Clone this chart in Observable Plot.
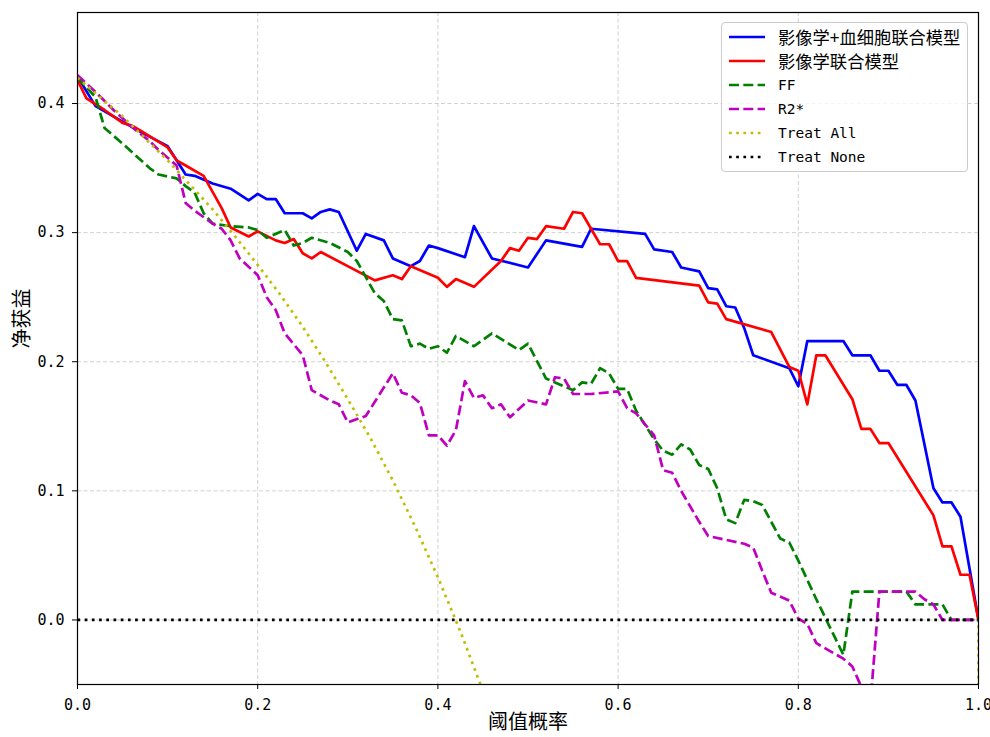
<!DOCTYPE html>
<html>
<head>
<meta charset="utf-8">
<script src="https://cdn.jsdelivr.net/npm/d3@7"></script>
<script src="https://cdn.jsdelivr.net/npm/@observablehq/plot@0.6"></script>
<style>
  html, body { margin: 0; padding: 0; background: #fff; }
  #wrap { position: relative; width: 990px; height: 737px; }
  #legend { position: absolute; left: 721px; top: 22px; width: 247px; height: 150px;
    border: 1px solid #cccccc; border-radius: 4px; background: rgba(255,255,255,0.8); box-sizing: border-box; }
  .row { position: absolute; left: 0; height: 24px; width: 246px; }
  .row svg { position: absolute; left: 5px; top: 0; }
  .row span { position: absolute; left: 56px; top: 0; line-height: 24px; white-space: nowrap; color: #000; }
  .cjk { font-family: "Noto Sans CJK SC", sans-serif; font-size: 17.3px; }
  .mono { font-family: "DejaVu Sans Mono", monospace; font-size: 14.5px; }
</style>
</head>
<body>
<div id="wrap"></div>
<script>
// ---------- data ----------
const seriesNames = ["影像学+血细胞联合模型", "影像学联合模型", "FF", "R2*", "Treat All", "Treat None"];

const blueX = [0,0.02,0.05,0.07,0.10,0.11,0.12,0.13,0.15,0.17,0.19,0.20,0.21,0.22,0.23,0.25,0.26,0.27,0.28,0.29,0.31,0.32,0.34,0.35,0.37,0.38,0.39,0.40,0.43,0.44,0.46,0.50,0.52,0.56,0.57,0.63,0.64,0.66,0.67,0.69,0.70,0.71,0.72,0.73,0.74,0.75,0.79,0.80,0.81,0.85,0.86,0.88,0.89,0.90,0.91,0.92,0.93,0.95,0.96,0.97,0.98,0.99,1.00];
const blueY = [0.421,0.398,0.386,0.378,0.367,0.356,0.345,0.344,0.338,0.334,0.325,0.330,0.326,0.326,0.315,0.315,0.311,0.316,0.318,0.316,0.286,0.299,0.294,0.280,0.274,0.278,0.290,0.288,0.281,0.305,0.280,0.273,0.294,0.289,0.303,0.299,0.287,0.285,0.273,0.270,0.257,0.256,0.243,0.242,0.226,0.205,0.195,0.181,0.216,0.216,0.205,0.205,0.193,0.193,0.182,0.182,0.170,0.102,0.091,0.091,0.080,0.040,0.000];

const redX = [0,0.01,0.03,0.05,0.06,0.07,0.10,0.11,0.12,0.14,0.16,0.17,0.19,0.20,0.22,0.23,0.24,0.25,0.26,0.27,0.33,0.35,0.36,0.37,0.40,0.41,0.42,0.44,0.47,0.48,0.49,0.50,0.51,0.52,0.54,0.55,0.56,0.58,0.59,0.60,0.61,0.62,0.69,0.70,0.71,0.72,0.77,0.79,0.80,0.81,0.82,0.83,0.86,0.87,0.88,0.89,0.90,0.95,0.96,0.97,0.98,0.99,1.00];
const redY = [0.418,0.404,0.395,0.385,0.383,0.379,0.366,0.356,0.352,0.344,0.319,0.304,0.297,0.301,0.294,0.292,0.295,0.284,0.280,0.285,0.263,0.267,0.264,0.274,0.265,0.258,0.264,0.258,0.278,0.288,0.286,0.296,0.295,0.305,0.303,0.316,0.315,0.291,0.291,0.278,0.278,0.265,0.259,0.246,0.245,0.233,0.223,0.196,0.193,0.167,0.205,0.205,0.171,0.148,0.148,0.137,0.137,0.081,0.057,0.057,0.035,0.035,0.000];

const ffX = [0,0.02,0.03,0.04,0.05,0.08,0.09,0.11,0.12,0.13,0.14,0.15,0.17,0.19,0.20,0.21,0.23,0.24,0.25,0.26,0.28,0.30,0.31,0.33,0.34,0.35,0.36,0.37,0.38,0.39,0.40,0.41,0.42,0.44,0.46,0.49,0.50,0.52,0.53,0.55,0.56,0.57,0.58,0.59,0.60,0.61,0.62,0.64,0.65,0.66,0.67,0.68,0.69,0.70,0.71,0.72,0.73,0.74,0.75,0.76,0.78,0.79,0.80,0.82,0.85,0.86,0.92,0.93,0.96,0.97,1.00];
const ffY = [0.420,0.405,0.381,0.375,0.369,0.350,0.345,0.342,0.336,0.331,0.315,0.307,0.305,0.304,0.302,0.296,0.302,0.290,0.292,0.296,0.292,0.285,0.278,0.253,0.247,0.233,0.232,0.212,0.214,0.210,0.212,0.207,0.220,0.212,0.222,0.209,0.214,0.187,0.184,0.178,0.184,0.183,0.195,0.191,0.179,0.179,0.162,0.140,0.131,0.128,0.136,0.132,0.120,0.117,0.102,0.078,0.075,0.093,0.092,0.089,0.063,0.060,0.046,0.016,-0.027,0.022,0.022,0.012,0.012,0.000,0.000];

const r2X = [0,0.02,0.04,0.06,0.08,0.09,0.11,0.12,0.13,0.15,0.16,0.17,0.18,0.20,0.21,0.22,0.23,0.25,0.26,0.28,0.29,0.30,0.32,0.35,0.36,0.37,0.38,0.39,0.40,0.41,0.42,0.43,0.44,0.45,0.46,0.47,0.48,0.50,0.52,0.53,0.54,0.55,0.57,0.60,0.61,0.62,0.64,0.65,0.66,0.67,0.69,0.70,0.74,0.75,0.76,0.77,0.79,0.80,0.81,0.82,0.85,0.86,0.87,0.88,0.89,0.93,0.94,0.95,0.96,1.00];
const r2Y = [0.422,0.409,0.395,0.382,0.371,0.364,0.352,0.323,0.317,0.307,0.303,0.294,0.280,0.267,0.250,0.240,0.222,0.205,0.178,0.170,0.167,0.153,0.158,0.191,0.176,0.174,0.168,0.143,0.143,0.135,0.147,0.185,0.172,0.174,0.164,0.167,0.157,0.170,0.167,0.188,0.187,0.175,0.175,0.177,0.164,0.160,0.143,0.116,0.114,0.100,0.076,0.065,0.059,0.056,0.038,0.021,0.015,0.001,-0.003,-0.018,-0.030,-0.036,-0.052,-0.065,0.022,0.022,0.016,0.012,0.000,0.000];

const allX = [0,0.025,0.05,0.075,0.10,0.125,0.15,0.175,0.20,0.225,0.25,0.275,0.30,0.325,0.35,0.375,0.40,0.425,0.45,0.475,0.99,1.00];
const allY = [0.420,0.405,0.390,0.373,0.356,0.337,0.318,0.297,0.275,0.252,0.227,0.200,0.171,0.141,0.108,0.072,0.033,-0.009,-0.055,-0.105,-57.0,0.000];

const noneX = [0, 1];
const noneY = [0, 0];

const xTicks = [0, 0.2, 0.4, 0.6, 0.8, 1.0];
const yTicks = [0, 0.1, 0.2, 0.3, 0.4];
const colors = ["#0000ff", "#ff0000", "#008000", "#bf00bf", "#bfbf00", "#000000"];
const xLabel = "阈值概率";
const yLabel = "净获益";

// ---------- chart ----------
const LW = 2.7;
const dash = `${(3.7*LW).toFixed(1)},${(1.6*LW).toFixed(1)}`;
const dot = `${(1*LW).toFixed(1)},${(1.65*LW).toFixed(1)}`;
const specs = [
  {x: blueX, y: blueY, c: colors[0], d: null},
  {x: redX, y: redY, c: colors[1], d: null},
  {x: ffX, y: ffY, c: colors[2], d: dash},
  {x: r2X, y: r2Y, c: colors[3], d: dash},
  {x: allX, y: allY, c: colors[4], d: dot},
  {x: noneX, y: noneY, c: colors[5], d: dot}
];

const gridStyle = {stroke: "#b0b0b0", strokeOpacity: 0.6, strokeWidth: 1, strokeDasharray: "4,2.5"};

const lineMarks = specs.map(s => Plot.line(s.y.map((v, i) => ({x: s.x[i], y: v})), {
  x: "x", y: "y", stroke: s.c, strokeWidth: LW,
  strokeDasharray: s.d || undefined,
  strokeLinecap: s.d ? "butt" : "square",
  strokeLinejoin: "round",
  clip: true
}));

const chart = Plot.plot({
  width: 990, height: 737,
  marginLeft: 77, marginRight: 12, marginTop: 12, marginBottom: 53,
  x: {domain: [0, 1]},
  y: {domain: [-0.05, 0.4705]},
  style: {fontFamily: "'DejaVu Sans Mono', monospace", fontSize: "15px", color: "#000", background: "#fff"},
  marks: [
    Plot.gridX(xTicks.slice(1, -1), gridStyle),
    Plot.gridY(yTicks, gridStyle),
    ...lineMarks,
    Plot.frame({stroke: "#000", strokeWidth: 1.2}),
    Plot.axisX(xTicks, {tickFormat: d => d.toFixed(1), tickSize: 5, tickPadding: 10, label: null, stroke: "#000"}),
    Plot.axisY(yTicks, {tickFormat: d => d.toFixed(1), tickSize: 5, tickPadding: 8, label: null, stroke: "#000"}),
    Plot.text([xLabel], {text: d => d, frameAnchor: "bottom", dy: 44, fontSize: 20, fontFamily: "'Noto Sans CJK SC', sans-serif", fill: "#000"}),
    Plot.text([yLabel], {text: d => d, frameAnchor: "left", dx: -55, rotate: -90, fontSize: 20, fontFamily: "'Noto Sans CJK SC', sans-serif", fill: "#000"})
  ]
});

const wrap = document.getElementById("wrap");
wrap.appendChild(chart);

// ---------- legend ----------
const legend = document.createElement("div");
legend.id = "legend";
seriesNames.forEach((name, i) => {
  const row = document.createElement("div");
  row.className = "row";
  row.style.top = (2 + i * 24) + "px";
  const sw = document.createElementNS("http://www.w3.org/2000/svg", "svg");
  sw.setAttribute("width", "40"); sw.setAttribute("height", "24");
  const ln = document.createElementNS("http://www.w3.org/2000/svg", "line");
  ln.setAttribute("x1", "2"); ln.setAttribute("x2", "38");
  ln.setAttribute("y1", "12"); ln.setAttribute("y2", "12");
  ln.setAttribute("stroke", colors[i]); ln.setAttribute("stroke-width", LW);
  const s = specs[i];
  if (s.d) ln.setAttribute("stroke-dasharray", s.d);
  sw.appendChild(ln);
  row.appendChild(sw);
  const t = document.createElement("span");
  t.textContent = name;
  t.className = /[\u4e00-\u9fff]/.test(name) ? "cjk" : "mono";
  row.appendChild(t);
  legend.appendChild(row);
});
wrap.appendChild(legend);
</script>
</body>
</html>
